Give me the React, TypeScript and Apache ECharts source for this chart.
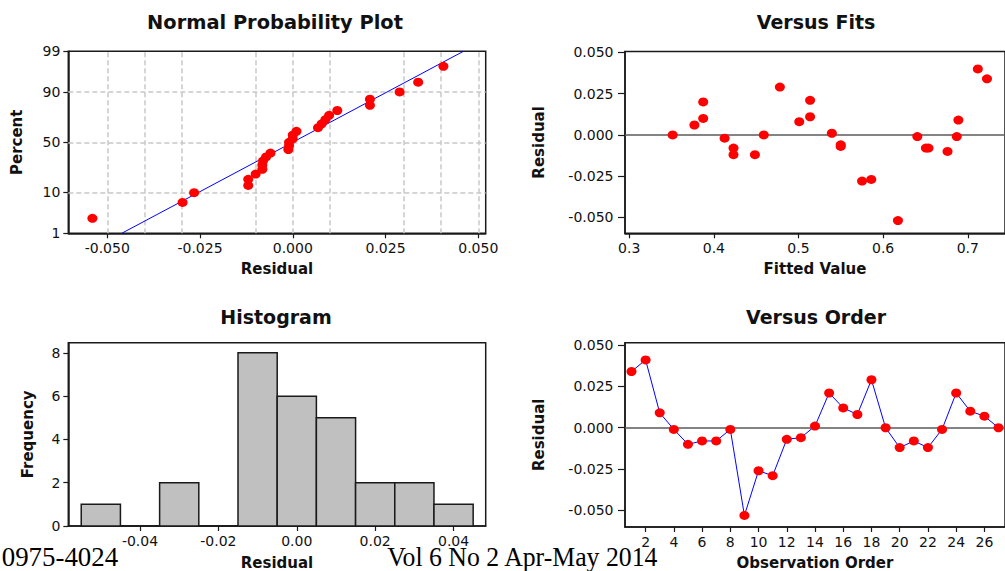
import React, { useEffect, useRef } from "react";
import * as echarts from "echarts";

// ---------------- data ----------------
const observationOrder = [1, 2, 3, 4, 5, 6, 7, 8, 9, 10, 11, 12, 13, 14, 15, 16, 17, 18, 19, 20, 21, 22, 23, 24, 25, 26, 27];
const residuals = [0.034, 0.041, 0.009, -0.001, -0.010, -0.008, -0.008, -0.001, -0.053, -0.026, -0.029, -0.007, -0.006, 0.001, 0.021, 0.012, 0.008, 0.029, 0.000, -0.012, -0.008, -0.012, -0.001, 0.021, 0.010, 0.007, 0.000];
const fittedValues = [0.7227, 0.7119, 0.6889, 0.687, 0.6761, 0.6536, 0.6505, 0.6404, 0.6175, 0.586, 0.5751, 0.5499, 0.5499, 0.5394, 0.5137, 0.5137, 0.5009, 0.478, 0.459, 0.4485, 0.4232, 0.4232, 0.4127, 0.3874, 0.3874, 0.377, 0.3513];
const fitsResiduals = [0.034, 0.040, 0.009, -0.001, -0.010, -0.008, -0.008, -0.001, -0.052, -0.027, -0.028, -0.007, -0.006, 0.001, 0.021, 0.011, 0.008, 0.029, 0.000, -0.012, -0.008, -0.012, -0.002, 0.020, 0.010, 0.006, 0.000];

// normal probability plot: sorted residuals vs plotting percent
const probResiduals = [-0.054, -0.0297, -0.0266, -0.012, -0.012, -0.010, -0.0082, -0.0082, -0.008, -0.0072, -0.006, -0.0012, -0.001, -0.001, 0.000, 0.000, 0.001, 0.0068, 0.0078, 0.0088, 0.0098, 0.012, 0.0208, 0.0208, 0.0288, 0.0338, 0.0406];
const probPercent = [2.6, 6.2, 9.9, 13.5, 17.2, 20.8, 24.5, 28.1, 31.8, 35.4, 39.1, 42.7, 46.4, 50.0, 53.6, 57.3, 61.0, 64.6, 68.2, 71.9, 75.5, 79.2, 82.8, 86.5, 90.1, 93.8, 97.4];
const fitLineResidual = [-0.0461, 0.046];
const fitLinePercent = [1, 99];

// histogram
const histCenters = [-0.05, -0.04, -0.03, -0.02, -0.01, 0.0, 0.01, 0.02, 0.03, 0.04];
const histCounts = [1, 0, 2, 0, 8, 6, 5, 2, 2, 1];
const binWidth = 0.01;

// ticks
const probXTicks = [-0.05, -0.025, 0, 0.025, 0.05];
const probXGrid = [-0.05, -0.0375, -0.025, -0.0125, 0, 0.0125, 0.025, 0.0375, 0.05];
const percentTicks = [1, 10, 50, 90, 99];
const percentGrid = [10, 50, 90];
const residualTicks = [-0.05, -0.025, 0, 0.025, 0.05];
const fitsXTicks = [0.3, 0.4, 0.5, 0.6, 0.7];
const histXTicks = [-0.04, -0.02, 0, 0.02, 0.04];
const histYTicks = [0, 2, 4, 6, 8];
const orderXTicks = [2, 4, 6, 8, 10, 12, 14, 16, 18, 20, 22, 24, 26];

// ---------------- helpers ----------------
function probit(p: number): number {
  const a = [-3.969683028665376e1, 2.209460984245205e2, -2.759285104469687e2, 1.38357751867269e2, -3.066479806614716e1, 2.506628277459239];
  const b = [-5.447609879822406e1, 1.615858368580409e2, -1.556989798598866e2, 6.680131188771972e1, -1.328068155288572e1];
  const c = [-7.784894002430293e-3, -3.223964580411365e-1, -2.400758277161838, -2.549732539343734, 4.374664141464968, 2.938163982698783];
  const d = [7.784695709041462e-3, 3.224671290700398e-1, 2.445134137142996, 3.754408661907416];
  const pl = 0.02425;
  if (p < pl) {
    const q = Math.sqrt(-2 * Math.log(p));
    return (((((c[0] * q + c[1]) * q + c[2]) * q + c[3]) * q + c[4]) * q + c[5]) / ((((d[0] * q + d[1]) * q + d[2]) * q + d[3]) * q + 1);
  }
  if (p <= 1 - pl) {
    const q = p - 0.5;
    const r = q * q;
    return ((((((a[0] * r + a[1]) * r + a[2]) * r + a[3]) * r + a[4]) * r + a[5]) * q) / (((((b[0] * r + b[1]) * r + b[2]) * r + b[3]) * r + b[4]) * r + 1);
  }
  const q = Math.sqrt(-2 * Math.log(1 - p));
  return -(((((c[0] * q + c[1]) * q + c[2]) * q + c[3]) * q + c[4]) * q + c[5]) / ((((d[0] * q + d[1]) * q + d[2]) * q + d[3]) * q + 1);
}

const FRAME = "#1a1a1a";
const FONT = "DejaVu Sans";

function axisBase(opts: any) {
  const { ticks, fmt, tickLen = 5, margin = 8, ...rest } = opts;
  return {
    type: "value",
    nameLocation: "middle",
    nameTextStyle: { fontWeight: "bold", fontSize: 15, color: "#111", fontFamily: FONT },
    axisLine: { show: true, onZero: false, lineStyle: { color: FRAME, width: 1.5 } },
    axisTick: { show: true, length: tickLen, customValues: ticks, lineStyle: { color: FRAME, width: 1.2 } },
    axisLabel: { show: true, customValues: ticks, margin, color: "#111", fontSize: 14, fontFamily: FONT, formatter: fmt },
    splitLine: { show: false },
    ...rest,
  };
}

export default function App() {
  const ref = useRef<HTMLDivElement>(null);

  useEffect(() => {
    if (!ref.current) return;
    const chart = echarts.init(ref.current, undefined, { renderer: "svg" });

    const zTicks = percentTicks.map((p) => probit(p / 100));
    const zMin = probit(0.01);
    const zMax = probit(0.99);

    const gridStyle = { show: true, borderColor: FRAME, borderWidth: 1.5, backgroundColor: "#fff" };
    const dot = { color: "#ff0000", opacity: 1 };

    const option: any = {
      animation: false,
      backgroundColor: "#fff",
      textStyle: { fontFamily: FONT },
      grid: [
        { ...gridStyle, left: 68.3, right: 519.3, top: 51.3, bottom: 337.7 },
        { ...gridStyle, left: 625, right: -5, top: 51.5, bottom: 337.7 },
        { ...gridStyle, left: 68.3, right: 519.3, top: 342.7, bottom: 42.7 },
        { ...gridStyle, left: 625, right: -5, top: 342.7, bottom: 42.7 },
      ],
      xAxis: [
        axisBase({ gridIndex: 0, min: -0.0605, max: 0.052, ticks: probXTicks, fmt: (v: number) => v.toFixed(3), name: "Residual", nameGap: 28 }),
        axisBase({ gridIndex: 1, min: 0.295, max: 0.744, ticks: fitsXTicks, fmt: (v: number) => v.toFixed(1), name: "Fitted Value", nameGap: 28 }),
        axisBase({ gridIndex: 2, min: -0.0583, max: 0.0482, ticks: histXTicks, fmt: (v: number) => v.toFixed(2), name: "Residual", nameGap: 29 }),
        axisBase({ gridIndex: 3, min: 0.54, max: 27.46, ticks: orderXTicks, fmt: (v: number) => String(Math.round(v)), name: "Observation Order", nameGap: 28 }),
      ],
      yAxis: [
        axisBase({
          gridIndex: 0, min: zMin, max: zMax, ticks: zTicks,
          fmt: (v: number) => {
            const i = zTicks.findIndex((z) => Math.abs(z - v) < 1e-6);
            return i >= 0 ? String(percentTicks[i]) : "";
          },
          name: "Percent", nameGap: 44,
        }),
        axisBase({ gridIndex: 1, min: -0.0597, max: 0.0506, ticks: residualTicks, fmt: (v: number) => v.toFixed(3), name: "Residual", nameGap: 78.5, tickLen: 7, margin: 11.5 }),
        axisBase({ gridIndex: 2, min: 0, max: 8.47, ticks: histYTicks, fmt: (v: number) => String(Math.round(v)), name: "Frequency", nameGap: 33 }),
        axisBase({ gridIndex: 3, min: -0.06, max: 0.0514, ticks: residualTicks, fmt: (v: number) => v.toFixed(3), name: "Residual", nameGap: 78.5, tickLen: 7, margin: 11.5 }),
      ],
      series: [
        // gridlines of the probability plot
        {
          type: "line", xAxisIndex: 0, yAxisIndex: 0, data: [], silent: true,
          markLine: {
            z: 1, silent: true, symbol: ["none", "none"], label: { show: false },
            lineStyle: { color: "#c8c8c8", width: 1.5, type: [5, 3] },
            data: [
              ...probXGrid.map((v) => ({ xAxis: v })),
              ...percentGrid.map((p) => ({ yAxis: probit(p / 100) })),
            ],
          },
        },
        {
          type: "line", xAxisIndex: 0, yAxisIndex: 0, z: 2, showSymbol: false, silent: true,
          lineStyle: { color: "#0000ff", width: 1 },
          data: fitLineResidual.map((r, i) => [r, probit(fitLinePercent[i] / 100)]),
        },
        {
          type: "scatter", xAxisIndex: 0, yAxisIndex: 0, z: 3, symbolSize: [10, 9],
          itemStyle: dot,
          data: probResiduals.map((r, i) => [r, probit(probPercent[i] / 100)]),
        },
        // versus fits
        {
          type: "scatter", xAxisIndex: 1, yAxisIndex: 1, z: 3, symbolSize: [10, 9],
          itemStyle: dot,
          data: fittedValues.map((f, i) => [f, fitsResiduals[i]]),
          markLine: {
            z: 1, silent: true, symbol: ["none", "none"], label: { show: false },
            lineStyle: { color: "#5a5a5a", width: 1.5, type: "solid" },
            data: [{ yAxis: 0 }],
          },
        },
        // histogram
        {
          type: "custom", xAxisIndex: 2, yAxisIndex: 2, z: 2,
          encode: { x: 0, y: 1 },
          data: histCenters.map((c, i) => [c, histCounts[i]]),
          renderItem: (params: any, api: any) => {
            const c = api.value(0);
            const n = api.value(1);
            const p1 = api.coord([c - binWidth / 2, n]);
            const p2 = api.coord([c + binWidth / 2, 0]);
            return {
              type: "rect",
              shape: { x: p1[0], y: p1[1], width: p2[0] - p1[0], height: p2[1] - p1[1] },
              style: { fill: "#c0c0c0", stroke: FRAME, lineWidth: 1.5 },
            };
          },
        },
        // versus order
        {
          type: "line", xAxisIndex: 3, yAxisIndex: 3, z: 3, symbol: "circle", symbolSize: [10, 9],
          lineStyle: { color: "#0000ff", width: 1 },
          itemStyle: dot,
          data: observationOrder.map((o, i) => [o, residuals[i]]),
          markLine: {
            z: 1, silent: true, symbol: ["none", "none"], label: { show: false },
            lineStyle: { color: "#5a5a5a", width: 1.5, type: "solid" },
            data: [{ yAxis: 0 }],
          },
        },
      ],
      graphic: [
        { type: "text", x: 275, y: 22, style: { text: "Normal Probability Plot", font: `bold 19.4px "${FONT}"`, fill: "#111", textAlign: "center", textVerticalAlign: "middle" } },
        { type: "text", x: 816, y: 22, style: { text: "Versus Fits", font: `bold 19px "${FONT}"`, fill: "#111", textAlign: "center", textVerticalAlign: "middle" } },
        { type: "text", x: 276, y: 316.7, style: { text: "Histogram", font: `bold 19px "${FONT}"`, fill: "#111", textAlign: "center", textVerticalAlign: "middle" } },
        { type: "text", x: 816, y: 316.7, style: { text: "Versus Order", font: `bold 19px "${FONT}"`, fill: "#111", textAlign: "center", textVerticalAlign: "middle" } },
        { type: "text", x: 1.7, y: 556.8, scaleX: 0.96, z: 100, style: { text: "0975-4024", font: '28px "Liberation Serif"', fill: "#000", textAlign: "left", textVerticalAlign: "middle" } },
        { type: "text", x: 387.3, y: 556.8, scaleX: 0.92, z: 100, style: { text: "Vol 6 No 2 Apr-May 2014", font: '28px "Liberation Serif"', fill: "#000", textAlign: "left", textVerticalAlign: "middle" } },
      ],
    };

    chart.setOption(option);
    return () => chart.dispose();
  }, []);

  return <div ref={ref} style={{ position: "absolute", left: 0, top: 0, width: 1005, height: 571 }} />;
}
